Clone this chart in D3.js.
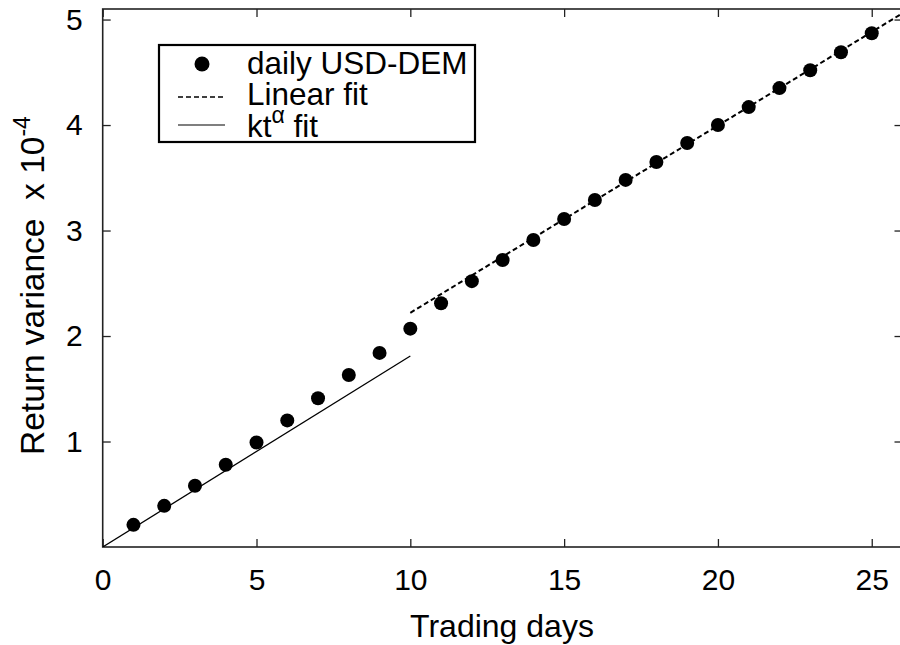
<!DOCTYPE html>
<html><head><meta charset="utf-8">
<script src="https://cdn.jsdelivr.net/npm/d3@7"></script>
<style>body{margin:0;background:#fff}svg{display:block}text{font-family:"Liberation Sans",Arial,sans-serif;fill:#000;white-space:pre}</style>
</head><body><div id="c"></div>
<script>
const days = [1,2,3,4,5,6,7,8,9,10,11,12,13,14,15,16,17,18,19,20,21,22,23,24,25];
const variance = [0.21,0.39,0.58,0.78,0.99,1.20,1.41,1.63,1.84,2.07,2.31,2.52,2.72,2.91,3.11,3.29,3.48,3.65,3.83,4.00,4.17,4.35,4.52,4.69,4.87];
const linearFitX = [10,26];
const linearFitY = [2.22,5.06];
const powerFitX = [0,10];
const powerFitY = [0,1.81];
const xTicks = [0,5,10,15,20,25];
const yTicks = [1,2,3,4,5];
const legendLabels = ["daily USD-DEM","Linear fit","kt"];

const W=900,H=645;
const L=102.7,R=902.5,T=9,B=547;
const svg=d3.select("#c").append("svg").attr("width",W).attr("height",H);
const x=d3.scaleLinear().domain([0,26]).range([L,R]);
const y=d3.scaleLinear().domain([0,5.1]).range([B,T]);

svg.append("defs").append("clipPath").attr("id","clip").append("rect")
  .attr("x",L).attr("y",T).attr("width",R-L).attr("height",B-T);

const tickLen=8, fmt=d3.format("d");
const gB=svg.append("g").attr("transform",`translate(0,${B})`)
  .call(d3.axisBottom(x).tickValues(xTicks).tickFormat(fmt).tickSizeInner(-tickLen).tickSizeOuter(0).tickPadding(22));
const gT=svg.append("g").attr("transform",`translate(0,${T})`)
  .call(d3.axisTop(x).tickValues(xTicks).tickSizeInner(-tickLen).tickSizeOuter(0).tickFormat(""));
const gL=svg.append("g").attr("transform",`translate(${L},0)`)
  .call(d3.axisLeft(y).tickValues(yTicks).tickFormat(fmt).tickSizeInner(-tickLen).tickSizeOuter(0).tickPadding(20));
const gR=svg.append("g").attr("transform",`translate(${R},0)`)
  .call(d3.axisRight(y).tickValues(yTicks).tickSizeInner(-tickLen).tickSizeOuter(0).tickFormat(""));
[gB,gT,gL,gR].forEach(g=>{
  g.select(".domain").remove();
  g.selectAll(".tick line").attr("stroke","#222").attr("stroke-width",1.3);
  g.selectAll("text").attr("font-size",30).attr("fill","#000").attr("font-family","Liberation Sans, Arial, sans-serif");
});
gB.selectAll("text").attr("dy","0.71em");
svg.append("rect").attr("x",L).attr("y",T).attr("width",R-L).attr("height",B-T)
  .attr("fill","none").attr("stroke","#222").attr("stroke-width",1.6);

const plot=svg.append("g").attr("clip-path","url(#clip)");
const line=d3.line().x(d=>x(d[0])).y(d=>y(d[1]));
plot.append("path").datum(powerFitX.map((v,i)=>[v,powerFitY[i]]))
  .attr("d",line).attr("fill","none").attr("stroke","#000").attr("stroke-width",1.3);
plot.append("path").datum(linearFitX.map((v,i)=>[v,linearFitY[i]]))
  .attr("d",line).attr("fill","none").attr("stroke","#000").attr("stroke-width",2).attr("stroke-dasharray","5,3");
plot.selectAll("circle").data(days).join("circle")
  .attr("cx",d=>x(d)).attr("cy",(d,i)=>y(variance[i])).attr("r",7).attr("fill","#000");

svg.append("text").attr("x",502).attr("y",637).attr("text-anchor","middle").attr("font-size",32).text("Trading days");
const yl=svg.append("text").attr("transform","translate(44,455) rotate(-90)").attr("font-size",33.5);
yl.append("tspan").text("Return variance  x 10");
yl.append("tspan").attr("dy",-14).attr("font-size",23).text("-4");

const lg=svg.append("g");
lg.append("rect").attr("x",159).attr("y",45).attr("width",316).attr("height",97)
  .attr("fill","#fff").attr("stroke","#000").attr("stroke-width",2.2);
lg.append("circle").attr("cx",202).attr("cy",64).attr("r",7.5).attr("fill","#000");
lg.append("line").attr("x1",178).attr("x2",225).attr("y1",97).attr("y2",97)
  .attr("stroke","#000").attr("stroke-width",1.6).attr("stroke-dasharray","5,3");
lg.append("line").attr("x1",178).attr("x2",225).attr("y1",125).attr("y2",125)
  .attr("stroke","#000").attr("stroke-width",1.2);
lg.append("text").attr("x",247).attr("y",74).attr("font-size",31.5).text(legendLabels[0]);
lg.append("text").attr("x",247).attr("y",105).attr("font-size",31.5).text(legendLabels[1]);
const t3=lg.append("text").attr("x",247).attr("y",137).attr("font-size",31.5);
t3.append("tspan").text(legendLabels[2]);
t3.append("tspan").attr("dy",-14).attr("font-size",23).text("α");
t3.append("tspan").attr("dy",14).text(" fit");
</script></body></html>
